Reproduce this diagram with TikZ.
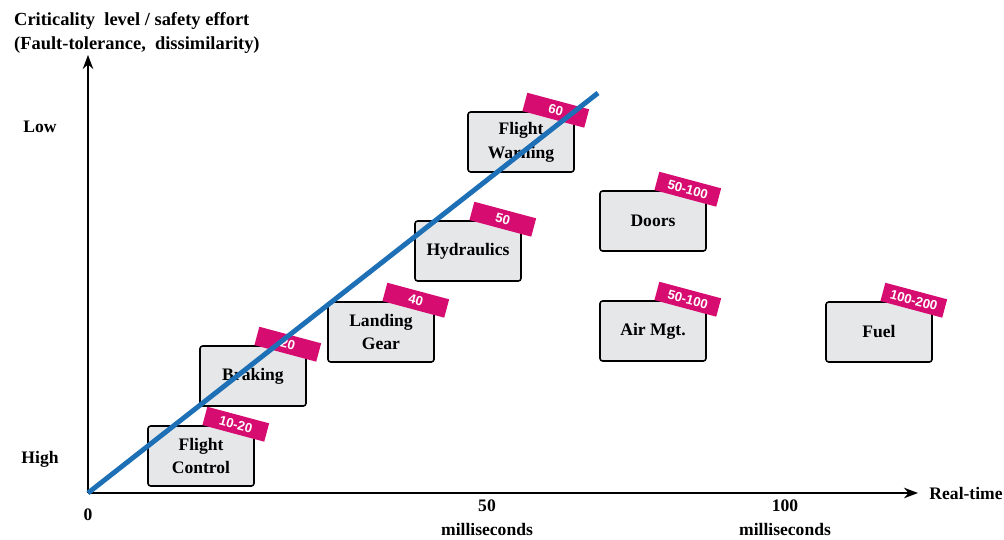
\documentclass[tikz,border=0pt]{standalone}
\usepackage{fontspec}
\setmainfont{Liberation Serif}
\setsansfont{Liberation Sans}
\usetikzlibrary{arrows.meta, calc, positioning}

\definecolor{boxgray}{RGB}{230,231,233}
\definecolor{tagpink}{RGB}{214,12,112}
\definecolor{trendblue}{RGB}{30,112,182}

\begin{document}
\begin{tikzpicture}[
    x=0.02cm, y=-0.02cm,
    axis line/.style={line width=1pt, -{Stealth[length=8pt, width=6pt]}},
    every node/.style={font=\bfseries\fontsize{10}{13.6}\selectfont},
    system box/.style={draw, line width=0.9pt, fill=boxgray, rounded corners=1.5pt, minimum width=2.12cm, minimum height=1.2cm, align=center},
    rate tag/.style={fill=tagpink, text=white, font=\sffamily\bfseries\fontsize{7.5}{8}\selectfont, minimum width=1.28cm, minimum height=0.38cm, inner sep=0pt, rotate=-15},
    trend line/.style={line width=2.8pt, trendblue}
]
    \useasboundingbox (0,0) rectangle (1004,540);

    % Axes
    \coordinate (origin) at (88,493);
    \coordinate (y top) at (88,55);
    \coordinate (x end) at (918,493);
    \draw[axis line] (origin) -- (y top);
    \draw[axis line] (origin) -- (x end);

    % Axis Labels
    \node[anchor=north west, align=left, font=\bfseries\fontsize{10.5}{13.6}\selectfont] (title) at (8,6)
        {Criticality\ \ level / safety effort\\(Fault-tolerance,\ \ dissimilarity)};
    \node[right=3pt of x end] (realtime) {Real-time};
    \node (low) at (40,127) {Low};
    \node (high) at (40,459) {High};
    \node (zero) at (88,515) {0};
    \node[align=center] (t50) at (487,518) {50\\milliseconds};
    \node[align=center] (t100) at (785,518) {100\\milliseconds};

    % Systems
    \node[system box] (fc) at (201,456) {Flight\\Control};
    \node[system box] (brake) at (253,376) {Braking};
    \node[system box] (gear) at (381,332) {Landing\\Gear};
    \node[system box] (hyd) at (468,251) {Hydraulics};
    \node[system box] (warn) at (521,142) {Flight\\Warning};
    \node[system box] (doors) at (653,221) {Doors};
    \node[system box] (air) at (653,331) {Air Mgt.};
    \node[system box] (fuel) at (879,332) {Fuel};

    % Rate Tags
    \node[rate tag] (fc tag) at ($(fc.north east)+(-19,-1)$) {10-20};
    \node[rate tag] (brake tag) at ($(brake.north east)+(-19,-1)$) {20};
    \node[rate tag] (gear tag) at ($(gear.north east)+(-19,-1)$) {40};
    \node[rate tag] (hyd tag) at ($(hyd.north east)+(-19,-1)$) {50};
    \node[rate tag] (warn tag) at ($(warn.north east)+(-19,-1)$) {60};
    \node[rate tag] (doors tag) at ($(doors.north east)+(-19,-1)$) {50-100};
    \node[rate tag] (air tag) at ($(air.north east)+(-19,-1)$) {50-100};
    \node[rate tag] (fuel tag) at ($(fuel.north east)+(-19,-1)$) {100-200};

    % Trend Line
    \coordinate (trend end) at (598,93);
    \draw[trend line] (origin) -- (trend end);

\end{tikzpicture}
\end{document}
